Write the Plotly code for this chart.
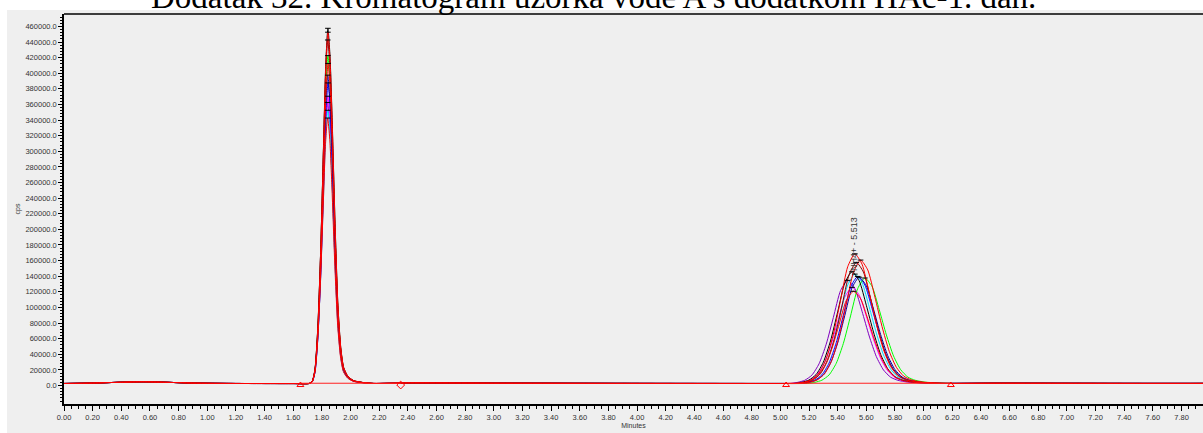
import plotly.graph_objects as go

TITLE = "Dodatak 32. Kromatogram uzorka vode A s dodatkom HAc-1. dan."
PEAK2_LABEL = "NH4+ - 5.513"

# per-run traces (drawn in this order, last on top)
colors = ["#8000c0", "#ff00ff", "#00e0ff", "#0000ff", "#00ff00", "#0000a0",
          "#000000", "#800000", "#ff0000", "#ff0000", "#ff0000"]
rt1 = [1.840, 1.842, 1.841, 1.843, 1.842, 1.841, 1.842, 1.841, 1.842, 1.840, 1.843]
h1 = [360000, 368000, 350000, 385000, 420000, 395000, 455000, 440000, 450000, 340000, 410000]
rt2 = [5.47, 5.50, 5.52, 5.54, 5.59, 5.55, 5.50, 5.53, 5.52, 5.51, 5.56]
h2 = [132000, 123000, 140000, 137000, 135000, 136000, 143000, 155000, 166000, 118000, 158000]

# baseline (minutes, cps)
early_t = [0.00, 0.20, 0.40, 0.55, 0.70, 0.90, 1.20, 1.60]
early_cps = [2600, 3100, 4200, 4700, 4200, 3100, 2600, 2500]
mid_t = [2.40, 3.00, 4.00, 5.00]
mid_cps = [3300, 3000, 2700, 2600]
end_t = [6.50, 7.00, 7.50, 7.95]
end_cps = [2900, 2800, 2700, 2700]
base1 = 2600
base2 = 2700

# normalised peak profiles (offset from apex in min, fraction of height)
p1_off = [-0.13, -0.11, -0.09, -0.07, -0.05, -0.03, -0.015, 0.0, 0.015, 0.03, 0.05, 0.07,
          0.09, 0.11, 0.14, 0.18, 0.24, 0.32]
p1_rel = [0.0, 0.005, 0.04, 0.16, 0.38, 0.68, 0.90, 1.0, 0.92, 0.74, 0.45, 0.22,
          0.10, 0.045, 0.02, 0.008, 0.003, 0.0]
p2_off = [-0.40, -0.35, -0.30, -0.25, -0.20, -0.15, -0.10, -0.05, 0.0, 0.05, 0.10, 0.15,
          0.20, 0.25, 0.30, 0.35, 0.42, 0.50, 0.60]
p2_rel = [0.0, 0.01, 0.03, 0.08, 0.19, 0.38, 0.64, 0.90, 1.0, 0.92, 0.70, 0.46,
          0.26, 0.13, 0.06, 0.03, 0.012, 0.005, 0.0]

# integration baselines / markers
int1_t = [1.65, 2.35]
int2_t = [5.04, 6.19]
int_cps = 2900
mark_cps = 600

x_ticks = [round(0.2 * i, 2) for i in range(40)]
y_ticks = [20000 * i for i in range(24)]

fig = go.Figure()

for c, a1, b1, a2, b2 in zip(colors, rt1, h1, rt2, h2):
    xs = list(early_t)
    ys = list(early_cps)
    xs += [a1 + o for o in p1_off]
    ys += [base1 + b1 * r for r in p1_rel]
    xs += mid_t
    ys += mid_cps
    xs += [a2 + o for o in p2_off]
    ys += [base2 + b2 * r for r in p2_rel]
    xs += end_t
    ys += end_cps
    fig.add_trace(go.Scatter(x=xs, y=ys, mode="lines",
                             line=dict(color=c, width=1, shape="spline", smoothing=0.6),
                             showlegend=False, hoverinfo="skip"))

# apex markers
fig.add_trace(go.Scatter(x=rt1 + rt2,
                         y=[base1 + v for v in h1] + [base2 + v for v in h2],
                         mode="markers",
                         marker=dict(symbol="line-ew-open", size=4, color="black",
                                     line=dict(width=1, color="black")),
                         showlegend=False, hoverinfo="skip"))

# integration baselines
for seg in (int1_t, int2_t):
    fig.add_trace(go.Scatter(x=seg, y=[int_cps, int_cps], mode="lines",
                             line=dict(color="#ff2020", width=1),
                             showlegend=False, hoverinfo="skip"))
fig.add_trace(go.Scatter(x=[int1_t[0], int2_t[0], int2_t[1]], y=[mark_cps] * 3,
                         mode="markers",
                         marker=dict(symbol="triangle-up-open", size=6, color="#ff0000",
                                     line=dict(width=1)),
                         showlegend=False, hoverinfo="skip"))
fig.add_trace(go.Scatter(x=[int1_t[1]], y=[mark_cps], mode="markers",
                         marker=dict(symbol="diamond-open", size=6, color="#ff0000",
                                     line=dict(width=1)),
                         showlegend=False, hoverinfo="skip"))

fig.add_annotation(x=5.513, y=144000, text=PEAK2_LABEL, textangle=-90,
                   showarrow=False, xanchor="center", yanchor="bottom",
                   font=dict(family="Liberation Sans, Arial", size=9, color="#333333"))

fig.add_annotation(xref="paper", yref="paper", x=0.465, y=1, yshift=-3,
                   text=TITLE, showarrow=False, xanchor="center", yanchor="bottom",
                   font=dict(family="Liberation Serif, Times New Roman", size=33, color="black"))

tick_font = dict(family="Liberation Sans, Arial", size=7.5, color="#333333")

fig.update_layout(
    width=1203, height=433,
    margin=dict(l=64, r=0, t=14, b=29, autoexpand=False),
    paper_bgcolor="#efefef",
    plot_bgcolor="#efefef",
    xaxis=dict(range=[0, 7.95], tickvals=x_ticks, tickformat=".2f", automargin=False,
               ticks="outside", ticklen=5, tickwidth=1, tickcolor="black",
               showline=True, linecolor="black", linewidth=1.5,
               showgrid=False, zeroline=False, tickfont=tick_font,
               minor=dict(dtick=0.05, tick0=0, ticks="outside", ticklen=3, tickcolor="black"),
               title=dict(text="Minutes", font=dict(family="Liberation Sans, Arial", size=7,
                                                    color="#333333"), standoff=2)),
    yaxis=dict(range=[-23700, 475900], tickvals=y_ticks, tickformat=".1f", automargin=False,
               ticks="outside", ticklen=4, tickwidth=1, tickcolor="black",
               showline=True, linecolor="black", linewidth=1.5,
               showgrid=False, zeroline=False, tickfont=tick_font,
               minor=dict(dtick=4000, tick0=0, ticks="outside", ticklen=2, tickcolor="black"),
               title=dict(text="cps", font=dict(family="Liberation Sans, Arial", size=7,
                                                color="#333333"), standoff=4)),
    shapes=[
        dict(type="rect", xref="paper", yref="paper", x0=-0.1, x1=1.1, y0=1.0103,
             y1=1.2, fillcolor="white", line=dict(width=0), layer="below"),
        dict(type="rect", xref="paper", yref="paper", x0=-0.1, x1=-0.05, y0=-0.2,
             y1=1.2, fillcolor="white", line=dict(width=0), layer="below"),
        dict(type="line", xref="paper", yref="paper", x0=0, x1=1, y0=1, y1=1,
             line=dict(color="black", width=1.5)),
    ],
)

fig.write_html("out.html", config={"displayModeBar": False},
               post_script="document.body.style.margin='0px';")
